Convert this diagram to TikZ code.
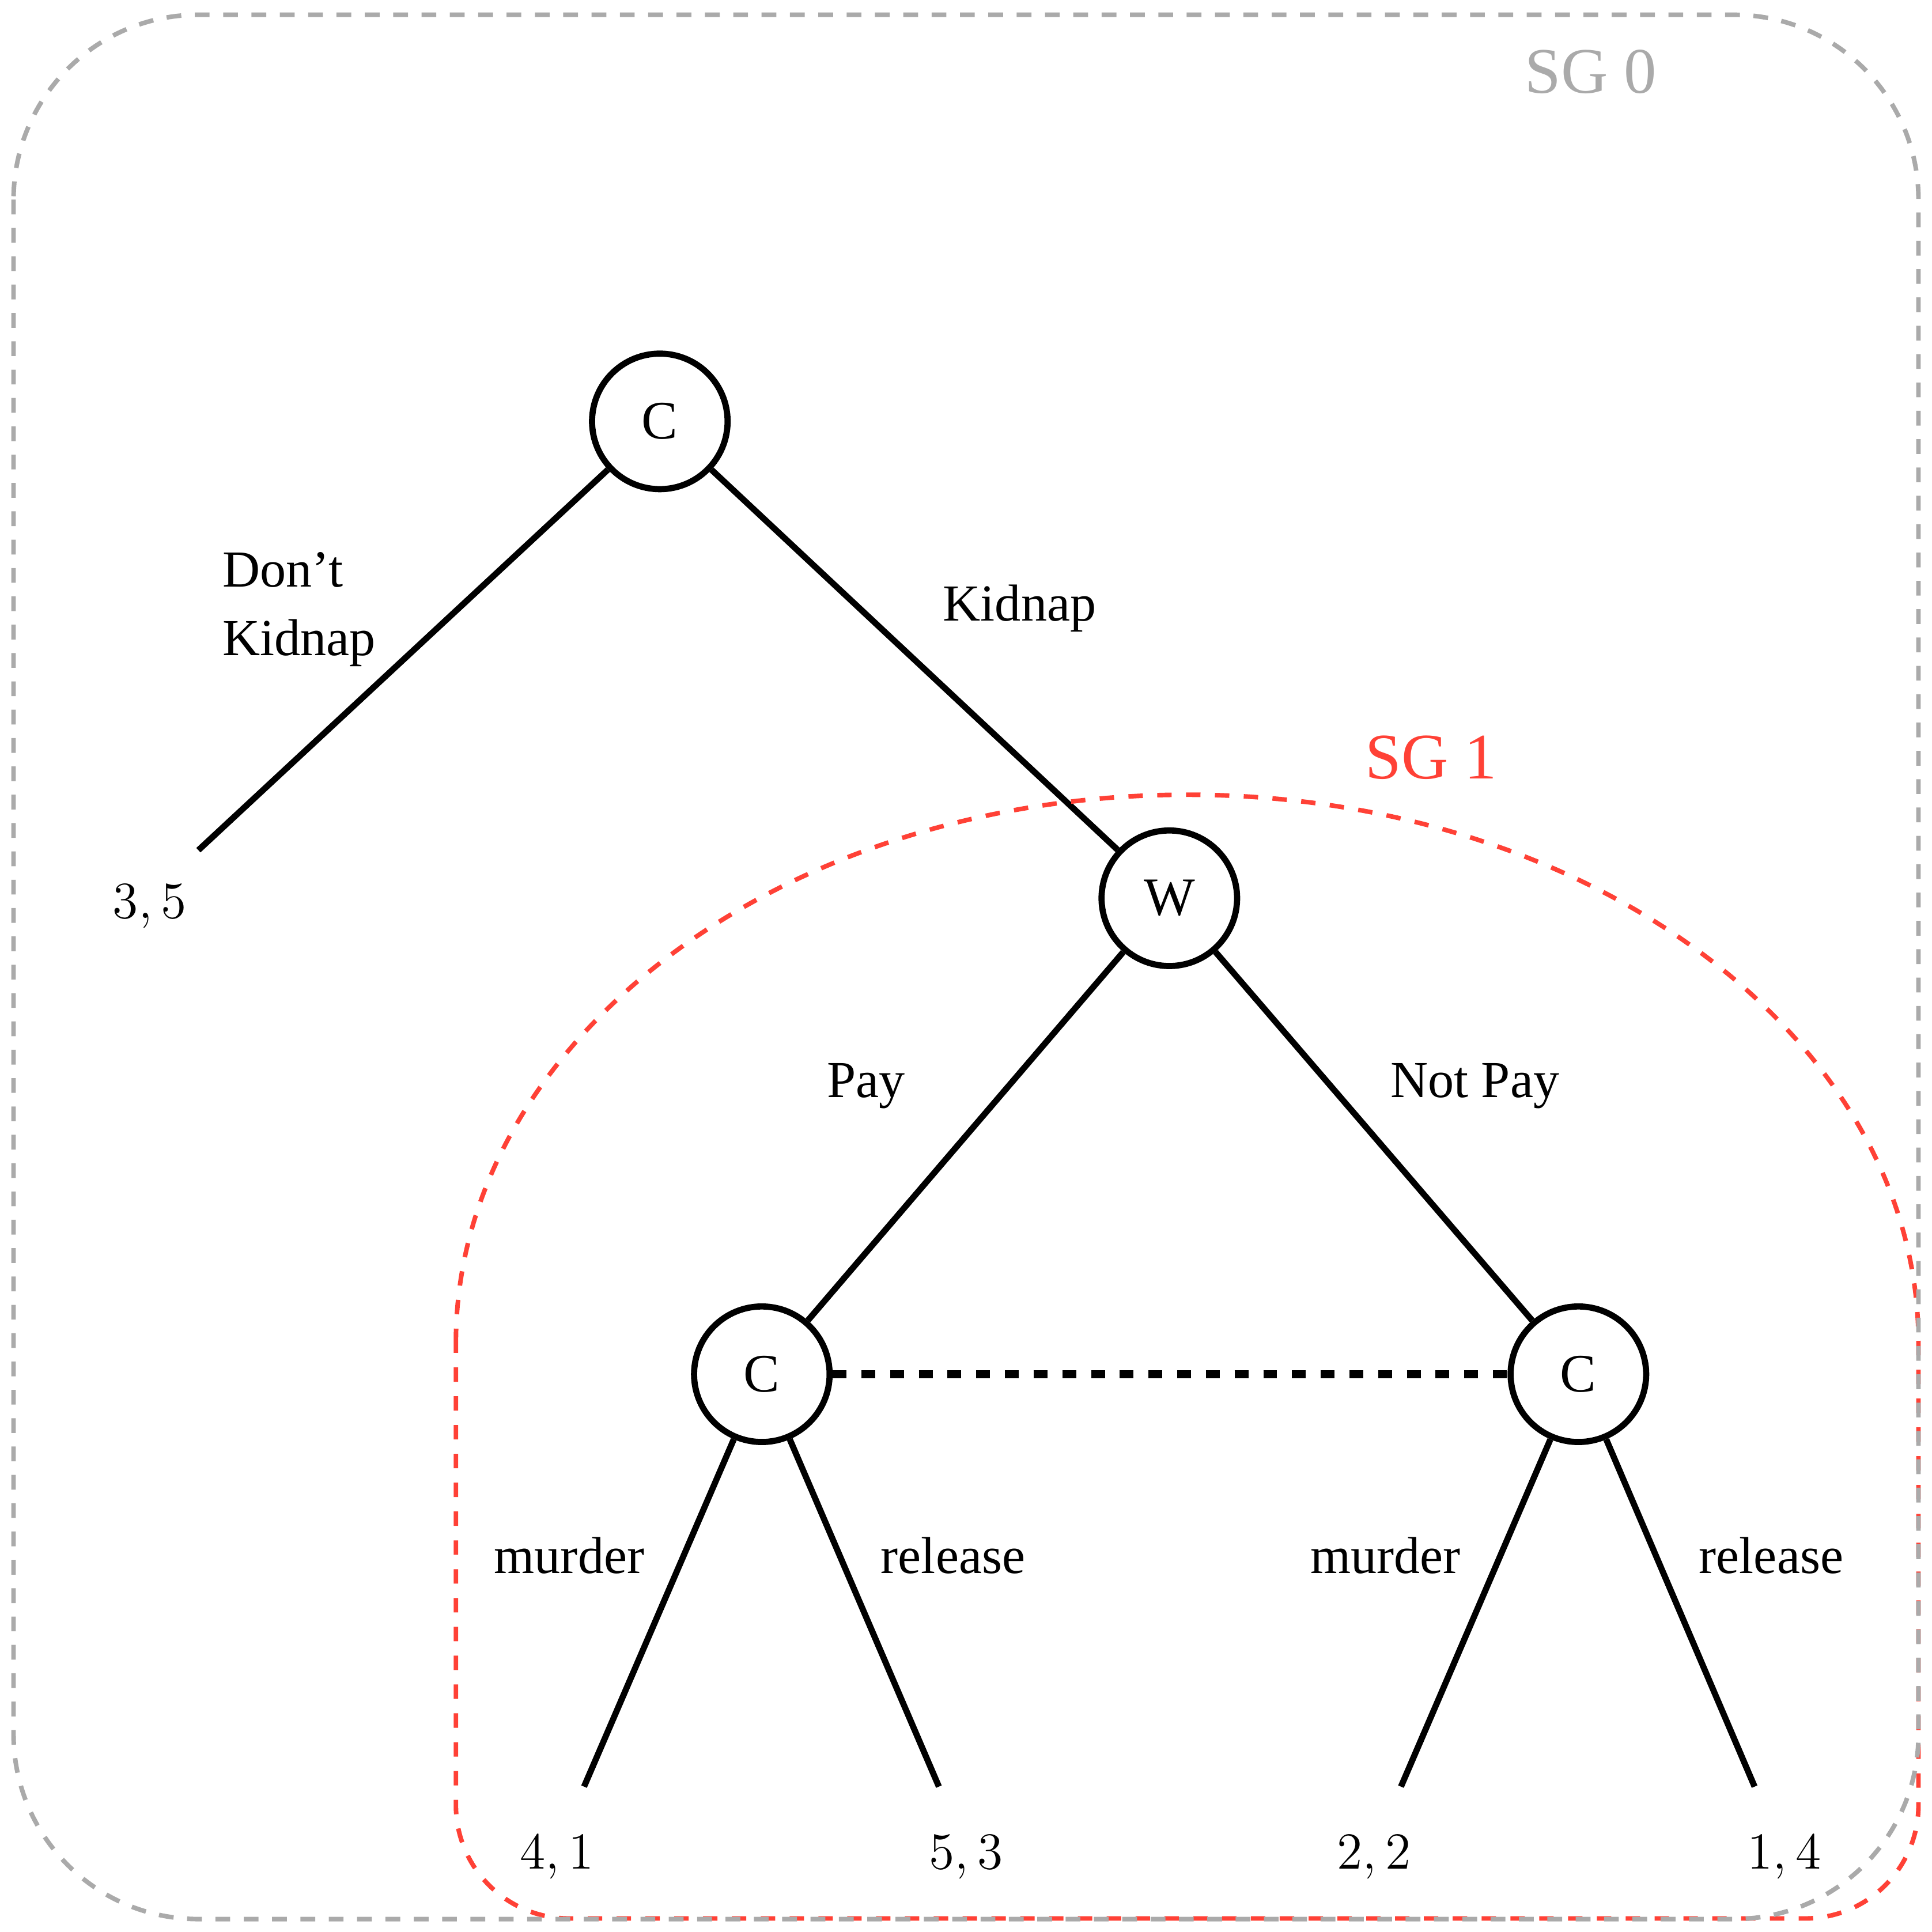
\documentclass[tikz,border=0pt]{standalone}
\usepackage[no-math]{fontspec}
\newfontfamily\gamefont{Liberation Serif}
\definecolor{sgzero}{HTML}{AAAAAA}
\definecolor{sgone}{HTML}{FF4136}
\tikzset{
    player/.style={draw, circle, line width=0.05cm, minimum size=1.1cm, inner sep=0pt, font=\gamefont\fontsize{12.5}{15}\selectfont},
    move/.style={inner sep=0pt, anchor=base, font=\gamefont\fontsize{12}{15.9}\selectfont},
    payoff/.style={inner sep=0pt, anchor=base, font=\fontsize{12.5}{15}\selectfont},
    branch/.style={line width=0.05cm},
    infoset/.style={line width=0.062cm, dash pattern=on 0.112cm off 0.121cm},
    sglabel/.style={inner sep=0pt, anchor=base, font=\gamefont\fontsize{15}{18}\selectfont}
}
\begin{document}
\begin{tikzpicture}
        \useasboundingbox (0,0) rectangle (15.68,-15.68);
        % decision nodes
        \node[player] (crim) at (5.355,-3.42) {C};
        \node[player] (wife) at (9.49,-7.29) {W};
        \node[player] (crimpay) at (6.183,-11.153) {C};
        \node[player] (crimnot) at (12.81,-11.153) {C};
        
        % ends of the branches
        \coordinate (nokid) at (1.61,-6.90);
        \coordinate (paymur) at (4.74,-14.50);
        \coordinate (payrel) at (7.62,-14.50);
        \coordinate (notmur) at (11.37,-14.50);
        \coordinate (notrel) at (14.24,-14.50);
        
        \draw[branch] (crim) -- (nokid);
        \draw[branch] (crim) -- (wife);
        \draw[branch] (wife) -- (crimpay);
        \draw[branch] (wife) -- (crimnot);
        \draw[branch] (crimpay) -- (paymur);
        \draw[branch] (crimpay) -- (payrel);
        \draw[branch] (crimnot) -- (notmur);
        \draw[branch] (crimnot) -- (notrel);
        \draw[infoset] (crimpay) -- (crimnot);
        
        % move labels
        \node[move, anchor=north west, align=left] (lnokid) at (1.80,-4.475) {Don’t\\Kidnap};
        \node[move] (lkid) at (8.275,-5.04) {Kidnap};
        \node[move] (lpay) at (7.027,-8.905) {Pay};
        \node[move] (lnot) at (11.97,-8.905) {Not Pay};
        \node[move] (lpaymur) at (4.62,-12.77) {murder};
        \node[move] (lpayrel) at (7.735,-12.77) {release};
        \node[move] (lnotmur) at (11.245,-12.77) {murder};
        \node[move] (lnotrel) at (14.375,-12.77) {release};
        
        % payoffs
        \node[payoff] (pnokid) at (1.215,-7.45) {$3,5$};
        \node[payoff] (ppaymur) at (4.52,-15.17) {$4,1$};
        \node[payoff] (ppayrel) at (7.84,-15.17) {$5,3$};
        \node[payoff] (pnotmur) at (11.15,-15.17) {$2,2$};
        \node[payoff] (pnotrel) at (14.48,-15.17) {$1,4$};
        
        % subgames
        \draw[sgone, line width=0.037cm, dash pattern=on 0.117cm off 0.117cm] (3.70,-10.90) arc[start angle=180, end angle=0, x radius=5.935, y radius=4.45] -- (15.57,-14.65) arc[start angle=0, end angle=-90, radius=0.92] -- (4.62,-15.57) arc[start angle=270, end angle=180, radius=0.92] -- cycle;
        \draw[sgzero, line width=0.037cm, dash pattern=on 0.12cm off 0.11cm, rounded corners=1.5cm] (0.11,-0.12) rectangle (15.57,-15.575);
        \node[sglabel, text=sgone] (sgonelbl) at (11.615,-6.32) {SG 1};
        \node[sglabel, text=sgzero] (sgzerolbl) at (12.91,-0.753) {SG 0};
\end{tikzpicture}
\end{document}
